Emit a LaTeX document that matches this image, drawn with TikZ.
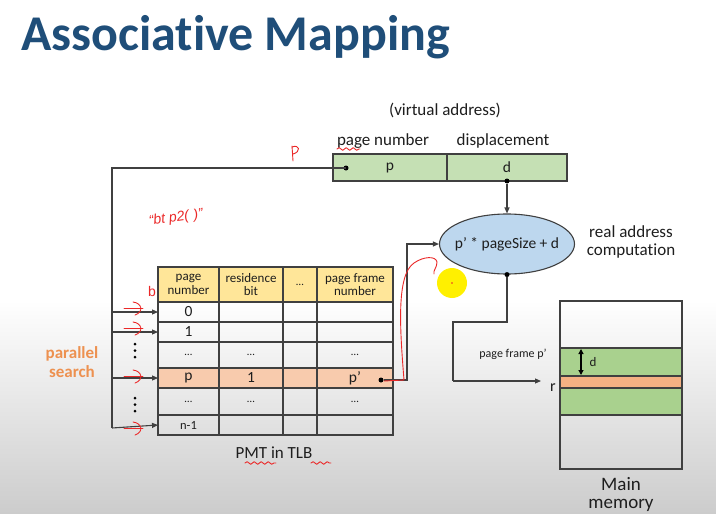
\documentclass[tikz,border=0pt]{standalone}
\usepackage{fontspec}
\setmainfont{Carlito}[Ligatures=NoCommon]
\newfontfamily\handfont{Liberation Sans}
\usetikzlibrary{arrows.meta,shapes.geometric,decorations.pathmorphing}
\definecolor{titleblue}{RGB}{31,78,121}
\definecolor{lc}{RGB}{64,64,64}
\definecolor{tc}{RGB}{30,30,30}
\definecolor{vagreen}{RGB}{197,224,180}
\definecolor{memgreen}{RGB}{169,209,142}
\definecolor{hdryellow}{RGB}{255,230,153}
\definecolor{prow}{RGB}{248,203,173}
\definecolor{memorange}{RGB}{244,177,131}
\definecolor{compblue}{RGB}{189,215,238}
\definecolor{psearch}{RGB}{237,145,80}
\definecolor{pen}{RGB}{235,40,40}
\definecolor{cursor}{RGB}{255,240,0}
\tikzset{
  ln/.style={draw=lc, line width=1.1pt},
  arr/.style={ln, -{Triangle[length=6pt,width=5pt]}},
  box/.style={draw=lc, line width=1.1pt, anchor=north west, inner sep=0pt, outer sep=0pt},
  txt/.style={inner sep=0pt, text=tc, font=\fontsize{17}{17}\selectfont},
  small/.style={inner sep=0pt, text=tc, font=\fontsize{13}{13.5}\selectfont, align=center},
  celltxt/.style={inner sep=0pt, text=tc, font=\fontsize{15.5}{15.5}\selectfont},
  dotsty/.style={fill=black, circle, inner sep=0pt, minimum size=5pt},
  ink/.style={draw=pen, line width=0.9pt, line cap=round, line join=round},
  wavy/.style={ink, decorate, decoration={snake, amplitude=1.3pt, segment length=7pt}}
}
\begin{document}
\begin{tikzpicture}[x=1pt,y=-1pt]
\useasboundingbox (0,0) rectangle (716,514);
% background
\fill[white] (0,0) rectangle (716,300);
\shade[top color=white, bottom color=black!20] (0,300) rectangle (716,514);

% title
\node[anchor=base west, inner sep=0pt, text=titleblue, font=\fontsize{50}{50}\selectfont\bfseries] (title) at (21,50) {Associative Mapping};

% virtual address
\node[txt] (valabel) at (445,110) {(virtual address)};
\node[box, fill=vagreen, minimum width=114, minimum height=27] (vap) at (333,154) {};
\node[box, fill=vagreen, minimum width=120, minimum height=27] (vad) at (447,154) {};
\node[txt] (pnlabel) at (383,141) {page number};
\node[txt] (dlabel) at (503,141) {displacement};
\node[celltxt] (ptext) at (390,168) {p};
\node[celltxt] (dtext) at (507,167) {d};
\node[dotsty] (vdot) at (346,168) {};
\node[dotsty] (ddot) at (507,181) {};

% computation ellipse
\node[ellipse, draw=lc, line width=1.1pt, fill=compblue, minimum width=135, minimum height=60, inner sep=0pt] (comp) at (507,244) {};
\node[inner sep=0pt, text=tc, font=\fontsize{15.5}{15.5}\selectfont] (comptxt) at (507,244) {p’ * pageSize + d};
\node[txt, align=center, font=\fontsize{17}{17.5}\selectfont] (realaddr) at (631,242) {real address\\computation};
\draw[arr] (ddot) -- (comp.north);

% table
\foreach \c/\cx/\cw/\t in {a/158/61/{page\\number}, b/219/64/{residence\\bit}, c/283/34/{\fontsize{11}{11}\selectfont …}, d/317/76/{page frame\\number}}{
  \node[box, fill=hdryellow, minimum width=\cw, minimum height=35] (h\c) at (\cx,267) {};
  \node[small] (ht\c) at (h\c.center) {\t};
}
\foreach \r/\ry/\rh/\rf in {r0/302/20/none, r1/322/20/none, rd/342/26/none, rp/368/20/prow, re/388/27/none, rn/415/20/none}{
  \foreach \c/\cx/\cw in {a/158/61, b/219/64, c/283/34, d/317/76}{
    \node[box, fill=\rf, minimum width=\cw, minimum height=\rh] (\r\c) at (\cx,\ry) {};
  }
}
\node[celltxt] (t0) at (r0a.center) {0};
\node[celltxt] (t1) at (r1a.center) {1};
\node[celltxt, font=\fontsize{11}{11}\selectfont] (tda) at (rda.center) {…};
\node[celltxt, font=\fontsize{11}{11}\selectfont] (tdb) at (rdb.center) {…};
\node[celltxt, font=\fontsize{11}{11}\selectfont] (tdd) at (rdd.center) {…};
\node[celltxt] (tpa) at (rpa.center) {p};
\node[celltxt] (tpb) at (rpb.center) {1};
\node[celltxt] (tpd) at (rpd.center) {p’};
\node[celltxt, font=\fontsize{11}{11}\selectfont] (tea) at (rea.center) {…};
\node[celltxt, font=\fontsize{11}{11}\selectfont] (teb) at (reb.center) {…};
\node[celltxt, font=\fontsize{11}{11}\selectfont] (ted) at (red.center) {…};
\node[celltxt, font=\fontsize{12.5}{12.5}\selectfont] (tna) at (rna.center) {n-1};
\node[txt] (pmt) at (274,453) {PMT in TLB};

% page number search lines
\coordinate (tl) at (112,168);
\coordinate (bl) at (112,428);
\draw[ln] (vdot.center) -- (tl) -- (bl);
\draw[arr] (bl) -- (rna.west);
\draw[arr] (tl |- r0a.west) -- (r0a.west);
\draw[arr] (tl |- r1a.west) -- (r1a.west);
\draw[arr] (tl |- rpa.west) -- (rpa.west);
\foreach \yy in {344,350.5,357,398,404.5,411}{\fill[black] (135,\yy) circle (1.5pt);}
\node[inner sep=0pt, text=psearch, align=center, font=\fontsize{17}{19}\selectfont\bfseries] (psrch) at (72,362) {parallel\\search};

% p' to computation
\node[dotsty] (pdot) at (381,380) {};
\coordinate (bx) at (407,0);
\draw[arr] (pdot) -- (pdot -| bx) |- (comp.west);

% computation to memory
\coordinate (k1) at (507,322);
\coordinate (k2) at (453,322);
\coordinate (k3) at (453,381);
\coordinate (rin) at (541,381);
\node[dotsty] (cdot) at (comp.south) {};
\draw[ln] (cdot) -- (k1) -- (k2) -- (k3);
\draw[arr] (k3) -- (rin);

% main memory
\node[box, minimum width=122, minimum height=168] (mem) at (560,301) {};
\node[box, fill=memgreen, minimum width=122, minimum height=28] (g1) at (560,348) {};
\node[box, fill=memgreen, minimum width=122, minimum height=27] (g2) at (560,388) {};
\node[box, fill=memorange, minimum width=122, minimum height=12] (ob) at (560,376) {};
\coordinate (da) at (581,349);
\coordinate (db) at (581,375);
\draw[draw=black, line width=1.1pt, {Triangle[length=5pt,width=5pt]}-{Triangle[length=5pt,width=5pt]}] (da) -- (db);
\node[inner sep=0pt, text=tc, font=\fontsize{13}{13}\selectfont] (dmem) at (593,362) {d};
\node[inner sep=0pt, text=tc, font=\fontsize{12}{12}\selectfont] (pfp) at (513,354) {page frame p’};
\node[inner sep=0pt, text=tc, font=\fontsize{16}{16}\selectfont] (rlab) at (553,388) {r};
\node[inner sep=0pt, text=tc, align=center, font=\fontsize{19}{18}\selectfont] (mainmem) at (621,494) {Main\\memory};

% handwritten annotations
\draw[ink] (292,146) -- (293,161);
\draw[ink] (292,147) .. controls (300,144) and (301,152) .. (293,154);
\node[inner sep=0pt, text=pen, rotate=8, font=\handfont\itshape\fontsize{14}{14}\selectfont] (note) at (176,218) {“bt p2(\,\,)”};
\node[inner sep=0pt, text=pen, font=\handfont\fontsize{14}{14}\selectfont] (hb) at (152,291) {b};
\foreach \yy in {308,328,376,428}{
  \draw[ink] (124,\yy) -- (143,\yy);
  \draw[ink] (133,\yy-6) .. controls (142,\yy-5) and (144,\yy+4) .. (135,\yy+7);
}
\draw[ink] (384,381) -- (404,380) .. controls (400,330) and (396,275) .. (414,263)
  .. controls (424,256) and (436,256) .. (437,262) .. controls (437,268) and (433,270) .. (434,274);
\draw[wavy] (337,149) -- (360,149);
\draw[wavy] (245,463) -- (276,463);
\draw[wavy] (311,463) -- (331,463);
\fill[cursor] (452,283) circle (15pt);
\fill[pen] (452,283) circle (0.8pt);
\end{tikzpicture}
\end{document}
